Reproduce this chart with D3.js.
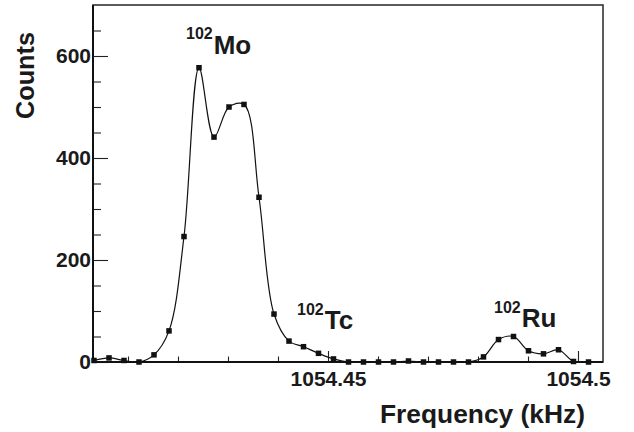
<!DOCTYPE html>
<html>
<head>
<meta charset="utf-8">
<script src="https://cdn.jsdelivr.net/npm/d3@7/dist/d3.min.js"></script>
<style>
  html, body { margin: 0; padding: 0; background: #fff; }
  svg { display: block; }
  text { font-family: "Liberation Sans", Arial, Helvetica, sans-serif; font-weight: bold; fill: #1a1a1a; }
</style>
</head>
<body>
<svg id="chart" width="634" height="432"></svg>
<script>
// ---- data ----
const frequencies = [
  1054.4032, 1054.4062, 1054.4092, 1054.4122, 1054.4152, 1054.4182, 1054.4212,
  1054.4242, 1054.4272, 1054.4302, 1054.4332, 1054.4362, 1054.4392, 1054.4422,
  1054.4451, 1054.4481, 1054.4511, 1054.4541, 1054.4571, 1054.4601, 1054.4631,
  1054.4661, 1054.4691, 1054.4721, 1054.4751, 1054.4781, 1054.4811, 1054.4841,
  1054.4871, 1054.4901, 1054.4931, 1054.4961, 1054.4991, 1054.5021
];
const counts = [
  3, 8, 3, 0, 14, 61, 246,
  577, 441, 500, 505, 323, 94, 41,
  30, 17, 6, 0, 0, 0, 0,
  2, 0, 0, 0, 0, 10, 44,
  50, 22, 16, 24, 1, 0
];
const xMajorTicks = [1054.45, 1054.5];
const xTickLabels = ["1054.45", "1054.5"];
const xMinorTicks = [1054.41, 1054.42, 1054.43, 1054.44, 1054.46, 1054.47, 1054.48, 1054.49];
const yMajorTicks = [0, 200, 400, 600];
const yMinorTicks = [50, 100, 150, 250, 300, 350, 450, 500, 550, 650];
const peakLabels = [
  { iso: "102", el: "Mo", f: 1054.4216, c: 604 },
  { iso: "102", el: "Tc", f: 1054.4438, c: 64.5 },
  { iso: "102", el: "Ru", f: 1054.4832, c: 68.5 }
];
const xTitle = "Frequency (kHz)";
const yTitle = "Counts";

// ---- layout ----
const svg = d3.select("#chart");
const L = 93, R = 603, T = 5, B = 362;
const x = d3.scaleLinear().domain([1054.403, 1054.505]).range([L, R]);
const y = d3.scaleLinear().domain([0, 700]).range([B, T]);

// frame
svg.append("rect")
  .attr("x", L).attr("y", T).attr("width", R - L).attr("height", B - T)
  .attr("fill", "none").attr("stroke", "#333").attr("stroke-width", 1.6);

// y axis
const yAx = svg.append("g").attr("transform", `translate(${L},0)`)
  .call(d3.axisLeft(y).tickValues(yMajorTicks).tickSize(-15).tickPadding(2).tickFormat(d3.format("d")));
const yMin = svg.append("g").attr("transform", `translate(${L},0)`)
  .call(d3.axisLeft(y).tickValues(yMinorTicks).tickSize(-8).tickFormat(""));

// x axis
const xAx = svg.append("g").attr("transform", `translate(0,${B})`)
  .call(d3.axisBottom(x).tickValues(xMajorTicks).tickSize(-11).tickPadding(9)
    .tickFormat((d, i) => xTickLabels[i]));
const xMin = svg.append("g").attr("transform", `translate(0,${B})`)
  .call(d3.axisBottom(x).tickValues(xMinorTicks).tickSize(-5.5).tickFormat(""));

[yAx, yMin, xAx, xMin].forEach(g => {
  g.select(".domain").remove();
  g.selectAll(".tick line").attr("stroke", "#222").attr("stroke-width", 1.1);
  g.selectAll(".tick text").style("font-size", "21px").attr("fill", "#1a1a1a")
    .style("font-family", "'Liberation Sans', Arial, sans-serif").style("font-weight", "bold");
});

// axis lines (thicker)
svg.append("line").attr("x1", L).attr("x2", L).attr("y1", T).attr("y2", B)
  .attr("stroke", "#111").attr("stroke-width", 2);
svg.append("line").attr("x1", L).attr("x2", R).attr("y1", B).attr("y2", B)
  .attr("stroke", "#111").attr("stroke-width", 2);

// curve
const pts = frequencies.map((f, i) => [f, counts[i]]);
const line = d3.line().x(d => x(d[0])).y(d => y(d[1])).curve(d3.curveCatmullRom.alpha(0.5));
svg.append("path").attr("d", line(pts)).attr("fill", "none")
  .attr("stroke", "#111").attr("stroke-width", 1.2);

// markers
const ms = 5.5;
svg.selectAll("rect.m").data(pts).enter().append("rect").attr("class", "m")
  .attr("x", d => x(d[0]) - ms / 2).attr("y", d => y(d[1]) - ms / 2)
  .attr("width", ms).attr("height", ms).attr("fill", "#111");

// peak labels
peakLabels.forEach(p => {
  const t = svg.append("text").attr("x", x(p.f)).attr("y", y(p.c));
  t.append("tspan").text(p.iso).style("font-size", "16px").attr("dy", "-14.5");
  t.append("tspan").text(p.el).style("font-size", "26px").attr("dy", "14.5").attr("dx", "1");
});

// axis titles
svg.append("text").attr("x", 585).attr("y", 423).attr("text-anchor", "end")
  .style("font-size", "25px").attr("textLength", 205).attr("lengthAdjust", "spacingAndGlyphs")
  .text(xTitle);
svg.append("text").attr("transform", "translate(34,32) rotate(-90)").attr("text-anchor", "end")
  .style("font-size", "25px").attr("textLength", 87).attr("lengthAdjust", "spacingAndGlyphs")
  .text(yTitle);
</script>
</body>
</html>
